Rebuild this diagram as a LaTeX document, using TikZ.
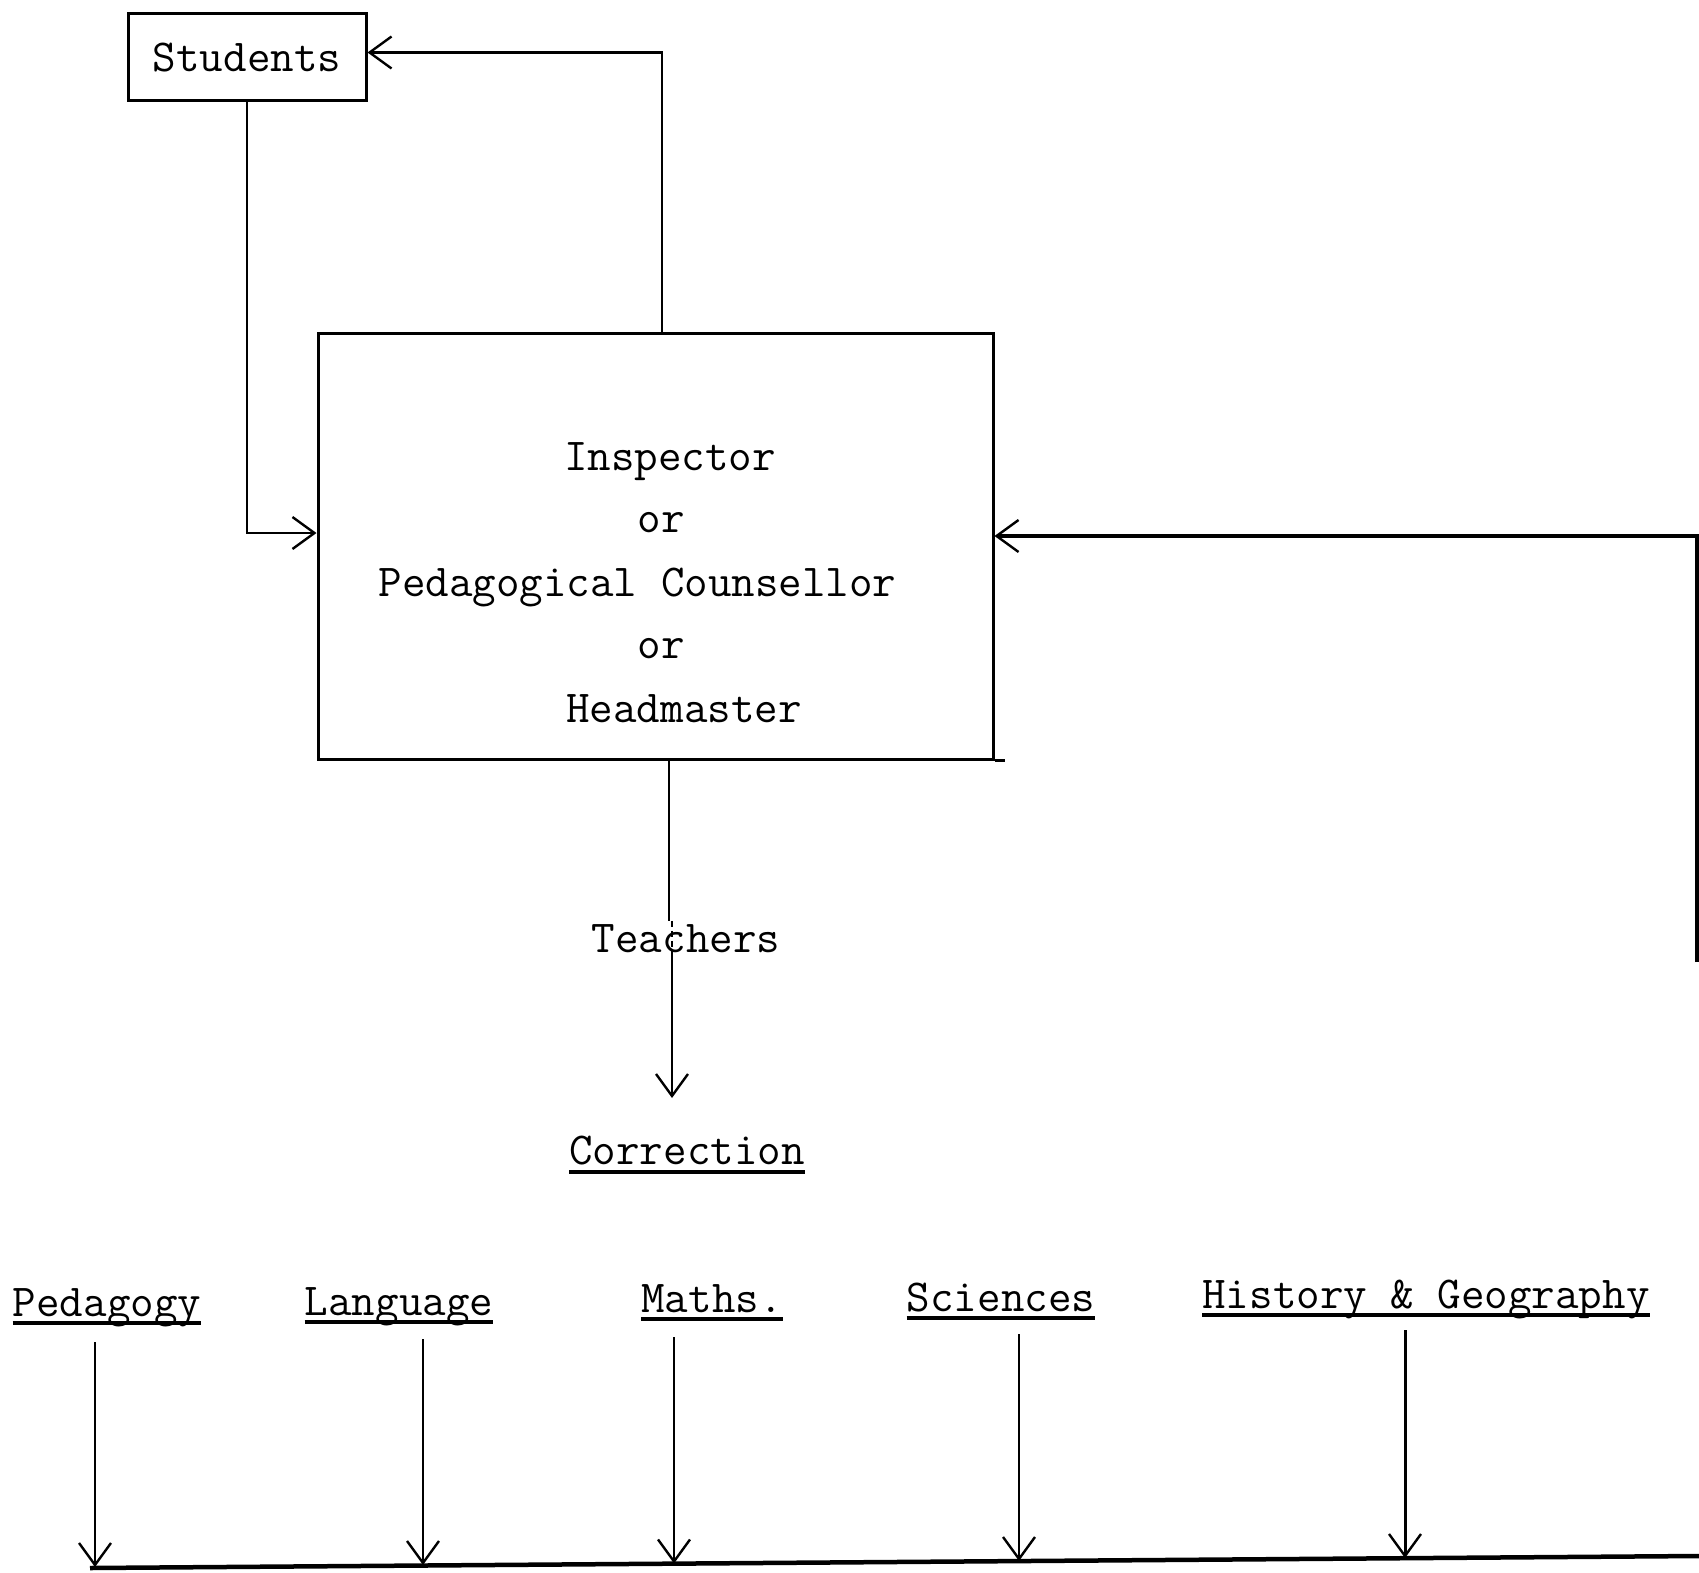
\documentclass[tikz,border=0pt]{standalone}
\usepackage{fontspec}
\usetikzlibrary{arrows.meta}
\begin{document}
\begin{tikzpicture}[x=1pt,y=-1pt,
  tt/.style={font=\fontsize{45.7}{50}\selectfont\ttfamily, inner sep=3pt},
  sub/.style={font=\fontsize{45.7}{50}\selectfont\ttfamily, inner sep=0pt, anchor=base},
  arr/.style={-{Straight Barb[length=22pt,width=32pt,line width=2.4pt]}, line width=2.2pt},
  frame/.style={draw, line width=3pt},
  ul/.style={line width=3.5pt}]
\useasboundingbox (0,0) rectangle (1699,1573);

% boxes
\node[frame, tt, minimum width=238pt, minimum height=87pt] (students) at (247,57.5) {Students};
\node[frame, minimum width=675pt, minimum height=426pt, inner sep=0pt] (box) at (655.5,546) {};
\draw[line width=3pt] (box.south east) -- ++(10,0);

% texts in big box
\node[tt, anchor=base] (l1) at (670,470) {Inspector};
\node[tt, anchor=base] (l2) at (661,532) {or};
\node[tt, anchor=base] (l3) at (637.5,596) {Pedagogical Counsellor};
\node[tt, anchor=base] (l4) at (661,658) {or};
\node[tt, anchor=base] (l5) at (684,722) {Headmaster};

% teachers and correction
\node[tt, anchor=base] (teachers) at (686,952) {Teachers};
\node[sub] (correction) at (687,1164) {Correction};
\draw[ul] ([yshift=-8pt]correction.base west) -- ([yshift=-8pt]correction.base east);
\coordinate (ctip) at (672,1098);

% subjects
\node[sub] (ped) at (107,1316) {Pedagogy};
\node[sub] (lang) at (399,1315) {Language};
\node[sub] (maths) at (712,1312) {Maths.};
\node[sub] (sci) at (1001,1311) {Sciences};
\node[sub] (hist) at (1426,1308) {History \& Geography};
\foreach \n in {ped,lang,maths,sci,hist}
  \draw[ul] ([yshift=-7pt]\n.base west) -- ([yshift=-7pt]\n.base east);

% bottom line
\coordinate (bl) at (90,1568);
\coordinate (br) at (1699,1556);
\draw[line width=4.5pt] (bl) -- (br);
\coordinate (e1) at (95,1567);
\coordinate (e2) at (423,1565);
\coordinate (e3) at (674,1563.5);
\coordinate (e4) at (1019,1561);
\coordinate (e5) at (1405,1558);

% connectors
\draw[arr] (students.south) |- ([yshift=13pt]box.west);
\draw[arr] ([xshift=6.5pt]box.north) |- ([yshift=5pt]students.east);
\coordinate (rend) at (1697,962);
\draw[arr, line width=3.5pt] (rend) |- ([yshift=10pt]box.east);

\draw[line width=2.2pt] ([xshift=13.5pt]box.south) -- ([xshift=13.5pt]box.south |- teachers.north);
\draw[line width=1.5pt, dash pattern=on 6pt off 4pt] (teachers.north -| ctip) -- (teachers.south -| ctip);
\draw[arr] (teachers.south -| ctip) -- (ctip);

\draw[arr, shorten <=26pt] (ped.base -| e1) -- (e1);
\draw[arr, shorten <=24pt] (lang.base -| e2) -- (e2);
\draw[arr, shorten <=25pt] (maths.base -| e3) -- (e3);
\draw[arr, shorten <=23pt] (sci.base -| e4) -- (e4);
\draw[arr, line width=3pt, shorten <=22pt] (hist.base -| e5) -- (e5);
\end{tikzpicture}
\end{document}
